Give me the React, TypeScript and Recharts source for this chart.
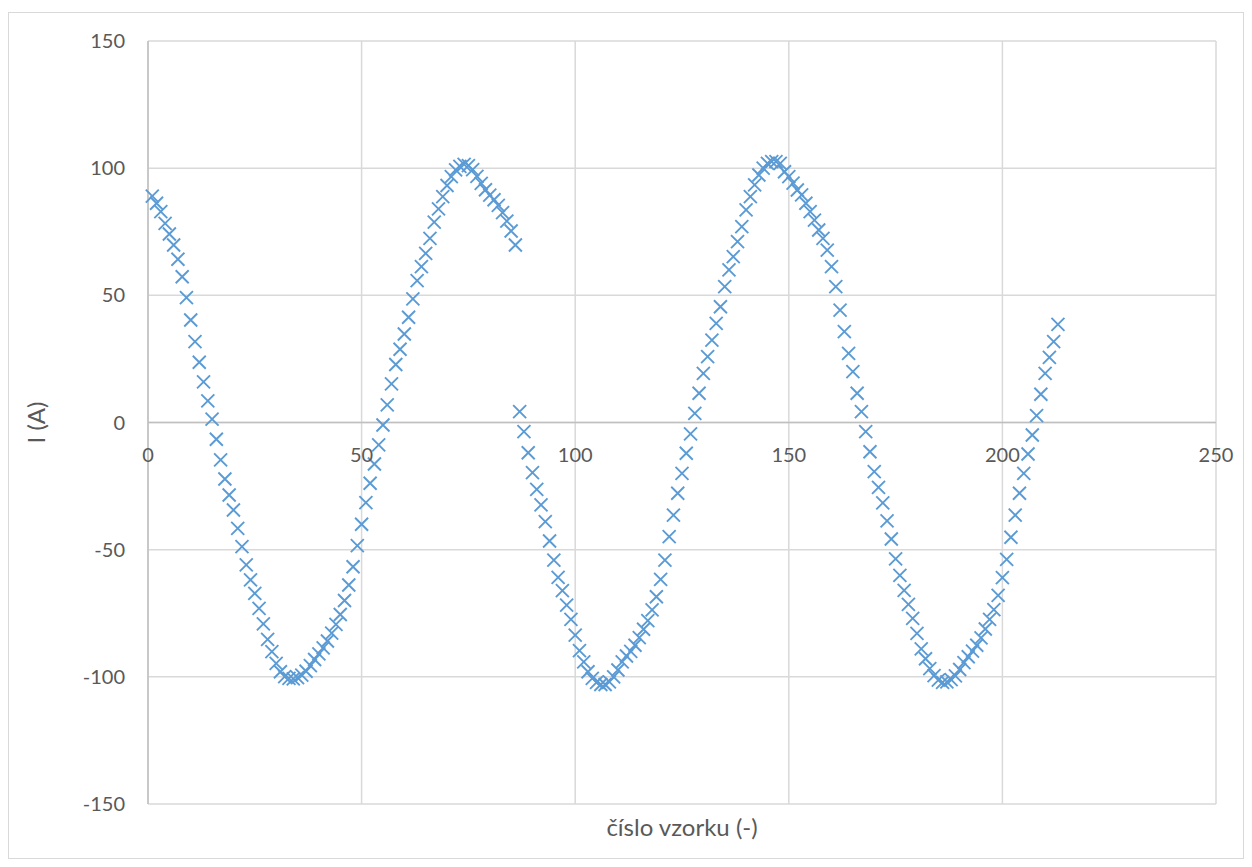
import React from 'react';
import {
  ScatterChart,
  Scatter,
  XAxis,
  YAxis,
  CartesianGrid,
  ReferenceLine,
} from 'recharts';

// proud I (A) pro vzorky 1..213
const current = [
  89.0, 86.2, 82.9, 78.3, 74.1, 69.8, 64.2, 57.3, 49.1, 40.3, // 1-10
  31.8, 23.7, 16.0, 8.5, 1.3, -6.6, -14.7, -22.2, -28.5, -34.4, // 11-20
  -41.6, -48.8, -56.0, -61.9, -67.2, -73.1, -79.2, -85.3, -90.1, -94.7, // 21-30
  -98.0, -99.9, -100.6, -100.8, -100.3, -99.3, -97.8, -95.6, -93.2, -91.0, // 31-40
  -88.6, -85.9, -82.8, -79.4, -75.5, -70.0, -63.9, -56.7, -48.4, -40.0, // 41-50
  -31.5, -23.9, -16.3, -8.8, -1.0, 6.9, 15.2, 22.8, 28.8, 34.8, // 51-60
  41.4, 48.6, 55.8, 61.3, 66.5, 72.4, 78.8, 84.0, 88.8, 93.2, // 61-70
  96.7, 99.3, 100.7, 101.5, 101.0, 99.4, 96.8, 94.0, 91.5, 89.4, // 71-80
  87.6, 85.4, 82.5, 79.2, 75.3, 69.8, 4.3, -3.6, -11.9, -19.7, // 81-90
  -26.3, -32.4, -39.0, -46.6, -54.1, -60.9, -66.1, -71.8, -77.4, -83.6, // 91-100
  -89.7, -94.1, -98.0, -100.6, -102.2, -103.0, -103.0, -102.0, -100.0, -97.3, // 101-110
  -94.1, -91.8, -90.0, -87.6, -84.6, -81.3, -77.9, -73.7, -68.5, -61.7, // 111-120
  -54.1, -44.9, -36.4, -27.8, -20.0, -12.1, -4.5, 3.6, 11.5, 19.3, // 121-130
  25.9, 32.4, 39.0, 45.5, 53.4, 60.0, 65.2, 71.1, 77.0, 83.6, // 131-140
  88.8, 93.4, 97.3, 100.0, 101.9, 102.6, 102.6, 101.9, 98.6, 96.7, // 141-150
  94.1, 91.4, 89.5, 86.2, 82.9, 79.6, 75.7, 72.4, 67.8, 61.3, // 151-160
  53.4, 44.2, 35.7, 27.2, 20.0, 11.5, 4.3, -3.6, -11.5, -19.3, // 161-170
  -25.5, -31.6, -38.7, -45.8, -53.6, -60.1, -66.0, -71.5, -77.0, -82.9, // 171-180
  -89.0, -92.9, -96.8, -99.5, -101.3, -102.2, -102.0, -101.1, -99.6, -97.1, // 181-190
  -94.4, -92.1, -89.9, -87.6, -84.7, -81.2, -77.4, -73.6, -68.0, -61.0, // 191-200
  -53.8, -45.1, -36.4, -27.8, -20.0, -12.4, -4.9, 2.7, 11.1, 19.3, // 201-210
  25.6, 31.8, 38.6, // 211-213
];

const xTicks = [0, 50, 100, 150, 200, 250];
const yTicks = [-150, -100, -50, 0, 50, 100, 150];

const data = current.map((value, i) => ({ sample: i + 1, value }));

const W = 1234;
const H = 845;
const PLOT_TOP = 28;
const PLOT_H = 763;
const FONT = 'Lato, "Open Sans", sans-serif';
const TEXT = '#595959';

const XMarker = ({ cx, cy }: any) => (
  <path
    d={`M${cx - 6.5},${cy - 6.5}L${cx + 6.5},${cy + 6.5}M${cx - 6.5},${cy + 6.5}L${cx + 6.5},${cy - 6.5}`}
    stroke="#5b9bd5"
    strokeWidth={1.9}
    fill="none"
  />
);

// popisky osy x sedí pod nulovou čarou, ne dole
const XTick = ({ x, payload }: any) => (
  <text
    x={x}
    y={PLOT_TOP + PLOT_H / 2 + 31}
    textAnchor="middle"
    dominantBaseline="central"
    fill={TEXT}
    fontSize={20}
    fontFamily={FONT}
  >
    {payload.value}
  </text>
);

const App: React.FC = () => {
  return (
    <div
      style={{
        width: W,
        height: H,
        border: '1px solid #d9d9d9',
        marginTop: 4,
        background: '#fff',
        fontFamily: FONT,
      }}
    >
      <ScatterChart width={W} height={H} margin={{ top: PLOT_TOP, right: 27, bottom: 0, left: 0 }}>
        <CartesianGrid stroke="#d9d9d9" strokeWidth={1.5} />
        <XAxis
          type="number"
          dataKey="sample"
          domain={[0, 250]}
          ticks={xTicks}
          height={54}
          axisLine={false}
          tickLine={false}
          tick={<XTick />}
          label={{
            value: 'číslo vzorku (-)',
            position: 'insideBottom',
            offset: 22,
            fill: TEXT,
            fontSize: 24,
            fontFamily: FONT,
          }}
        />
        <YAxis
          type="number"
          dataKey="value"
          domain={[-150, 150]}
          ticks={yTicks}
          width={139}
          axisLine={{ stroke: '#bfbfbf', strokeWidth: 1.5 }}
          tickLine={false}
          tickSize={0}
          tickMargin={23}
          tick={{ fill: TEXT, fontSize: 20, fontFamily: FONT }}
          label={{
            value: 'I (A)',
            content: () => (
              <text
                x={26}
                y={PLOT_TOP + PLOT_H / 2}
                transform={`rotate(-90, 26, ${PLOT_TOP + PLOT_H / 2})`}
                textAnchor="middle"
                dominantBaseline="central"
                fill={TEXT}
                fontSize={24}
                fontFamily={FONT}
              >
                I (A)
              </text>
            ),
          }}
        />
        <ReferenceLine y={0} stroke="#bfbfbf" strokeWidth={1.5} />
        <Scatter data={data} shape={<XMarker />} isAnimationActive={false} />
      </ScatterChart>
    </div>
  );
};

export default App;
